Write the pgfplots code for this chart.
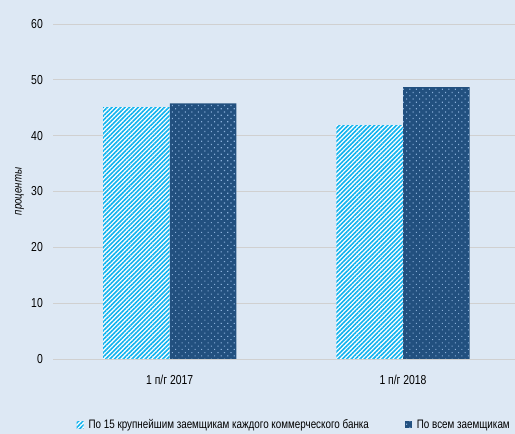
\documentclass[border=0pt]{standalone}
\usepackage{pgfplots}
\pgfplotsset{compat=1.18}
\usetikzlibrary{patterns.meta}
\usepackage{fontspec}
\setmainfont[FakeStretch=0.8]{Liberation Sans}
\definecolor{bg}{HTML}{DDE8F4}
\definecolor{cyanb}{HTML}{10B2EE}
\definecolor{darkb}{HTML}{22507F}
\definecolor{dotc}{HTML}{8AB0DA}
\definecolor{gridc}{HTML}{D0D0D0}
\begin{document}
\fontsize{12bp}{14bp}\selectfont
\begin{tikzpicture}[x=1bp,y=1bp]
\fill[bg] (-53,-75) rectangle (462,359);
\useasboundingbox (-53,-75) rectangle (462,359);
\begin{axis}[
  scale only axis, width=462bp, height=335bp,
  xmin=-0.5, xmax=1.48, ymin=0, ymax=60,
  ytick={0,10,...,60},
  xtick={0,1}, xticklabels={1 п/г 2017, 1 п/г 2018},
  axis line style={draw=none},
  major tick length=0pt,
  ymajorgrids, grid style={gridc, line width=0.8pt},
  tick label style={font=\fontsize{13bp}{15bp}\selectfont},
  /pgf/number format/assume math mode=true,
  yticklabel style={xshift=-6bp},
  xticklabel style={yshift=-12bp},
  ylabel={\itshape проценты}, ylabel style={font=\fontsize{12bp}{14bp}\selectfont, yshift=-1bp},
  ybar, bar width=0.285,
  legend columns=2,
  legend style={at={(0.522,-0.197)}, anchor=center, draw=none, fill=none,
    font=\fontsize{12.3bp}{14bp}\selectfont,
    /tikz/every odd column/.append style={column sep=3bp},
    /tikz/every even column/.append style={column sep=34bp}},
  legend image code/.code={\fill[#1] (0bp,-3.5bp) rectangle (7bp,3.5bp);},
  clip=false,
]
\addplot[draw=none, fill=white, postaction={pattern={Lines[angle=45,distance=3.1bp,line width=1.6bp]}, pattern color=cyanb}, bar shift=-0.143]
  coordinates {(0,45.1) (1,41.9)};
\addplot[draw=none, fill=darkb, postaction={pattern={Dots[angle=45,distance=4.6bp,radius=0.8bp]}, pattern color=dotc}, bar shift=0.143]
  coordinates {(0,45.8) (1,48.7)};
\legend{По 15 крупнейшим заемщикам каждого коммерческого банка, По всем заемщикам}
\end{axis}
\end{tikzpicture}
\end{document}
